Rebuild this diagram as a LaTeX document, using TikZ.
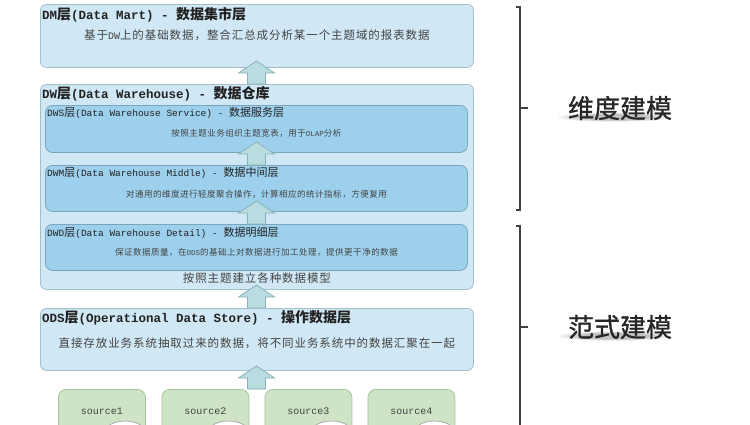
\documentclass[tikz,border=0pt]{standalone}
\usepackage{fontspec}
\setmonofont{Liberation Mono}
\newfontfamily\cjk{Noto Sans CJK SC}
\newfontfamily\cjkheavy[FakeBold=1]{Noto Sans CJK SC}
\newfontfamily\cjksp[LetterSpace=8]{Noto Sans CJK SC}
\newfontfamily\cjkss[LetterSpace=6]{Noto Sans CJK SC}
\usetikzlibrary{calc}
\definecolor{boxfill}{HTML}{D0E8F5}
\definecolor{boxline}{HTML}{A3BFC8}
\definecolor{innerfill}{HTML}{9DD0EC}
\definecolor{innerline}{HTML}{7AA5BA}
\definecolor{arrfill}{HTML}{B8DCE0}
\definecolor{arrline}{HTML}{8AB2B6}
\definecolor{srcfill}{HTML}{CFE3C7}
\definecolor{srcline}{HTML}{A8C59E}
\definecolor{txt}{HTML}{222222}
\newcommand\TL[1]{{\ttfamily\bfseries\fontsize{12.5bp}{15bp}\selectfont #1}}
\newcommand\TC[1]{{\cjk\bfseries\fontsize{14bp}{16bp}\selectfont #1}}
\newcommand\IL[1]{{\ttfamily\fontsize{9.5bp}{12bp}\selectfont #1}}
\newcommand\IC[1]{{\cjk\fontsize{11bp}{13bp}\selectfont #1}}
\newcommand\SL[1]{{\ttfamily\fontsize{7.5bp}{9bp}\selectfont #1}}
\newcommand\SC[1]{{\cjkss\fontsize{8.5bp}{10bp}\selectfont #1}}
\newcommand\ML[1]{{\ttfamily\fontsize{10bp}{12bp}\selectfont #1}}
\newcommand\MC[1]{{\cjksp\fontsize{11.5bp}{13bp}\selectfont #1}}
\newcommand\uparr[1]{%
  \draw[blockarr] ($(#1 -| ax)+(-9,0)$) -- ++(0,-11) -- ++(-9,0) -- ++(18,-12)
    -- ++(18,12) -- ++(-9,0) -- ++(0,11) -- cycle;}
\newcommand\softshadow[1]{%
  \foreach \r/\o in {56/0.05,50/0.06,44/0.07,36/0.08}{
    \fill[black, opacity=\o] ($(#1.south)+(-6,-3)$) ellipse [x radius=\r, y radius=\r/12];}}
\begin{document}
\begin{tikzpicture}[x=1bp,y=-1bp,
  layer/.style={draw=boxline, fill=boxfill, rounded corners=6bp, line width=0.8bp,
    minimum width=433bp, anchor=north west, inner sep=0pt},
  sublayer/.style={draw=innerline, fill=innerfill, rounded corners=7bp, line width=0.8bp,
    minimum width=422bp, minimum height=47bp, anchor=north west, inner sep=0pt},
  srcbox/.style={draw=srcline, fill=srcfill, rounded corners=8bp, line width=0.8bp,
    minimum width=87bp, minimum height=50bp, anchor=north west, inner sep=0pt},
  blockarr/.style={draw=arrline, fill=arrfill, line width=0.8bp, line join=miter},
  title/.style={anchor=west, inner sep=0pt, text=txt},
  sub/.style={anchor=center, inner sep=0pt, text=txt!85},
  srctext/.style={inner sep=0pt, text=txt!85, font=\ttfamily\fontsize{10bp}{12bp}\selectfont},
  bracket/.style={draw=black!75, line width=1.1bp},
  side/.style={inner sep=0pt, text=black!85, font=\cjkheavy\fontsize{26bp}{30bp}\selectfont}
]
\useasboundingbox (0,0) rectangle (750,424);
\clip (0,0) rectangle (750,424);
\fill[white] (0,0) rectangle (750,424);
\coordinate (ax) at (256.5,0);

% layers
\node[layer, minimum height=63bp] (dm) at (40,4) {};
\node[layer, minimum height=205bp] (dw) at (40,84) {};
\node[sublayer] (dws) at (45,105) {};
\node[sublayer, minimum height=46bp] (dwm) at (45,165) {};
\node[sublayer, minimum height=46bp] (dwd) at (45,224) {};
\node[layer, minimum height=62bp] (ods) at (40,308) {};

% sources
\node[srcbox] (s1) at (58,389) {};
\node[srcbox] (s2) at (161.5,389) {};
\node[srcbox] (s3) at (264.5,389) {};
\node[srcbox] (s4) at (367.5,389) {};
\foreach \s in {s1,s2,s3,s4}{
  \draw[draw=black!35, fill=white, line width=0.7bp] ($(\s.north west)+(67,43)$) ellipse [x radius=20, y radius=11];
}
\node[srctext] (s1t) at ($(s1.north)+(0,22)$) {source1};
\node[srctext] (s2t) at ($(s2.north)+(0,22)$) {source2};
\node[srctext] (s3t) at ($(s3.north)+(0,22)$) {source3};
\node[srctext] (s4t) at ($(s4.north)+(0,22)$) {source4};
\coordinate (srcs) at (256.5,389);

% arrows
\uparr{dw.north}
\uparr{dwm.north}
\uparr{dwd.north}
\uparr{ods.north}
\uparr{srcs}

% texts
\node[title] (dmt) at ($(dm.north west)+(2,11)$) {\TL{DM}\TC{层}\TL{(Data Mart) - }\TC{数据集市层}};
\node[sub] (dms) at ($(dm.north)+(0,31)$) {\MC{基于}\ML{DW}\MC{上的基础数据，整合汇总成分析某一个主题域的报表数据}};

\node[title] (dwt) at ($(dw.north west)+(2,9.5)$) {\TL{DW}\TC{层}\TL{(Data Warehouse) - }\TC{数据仓库}};

\node[title] (dwst) at ($(dws.north west)+(2,8)$) {\IL{DWS}\IC{层}\IL{(Data Warehouse Service) - }\IC{数据服务层}};
\node[sub] (dwss) at ($(dws.north)+(0,28)$) {\SC{按照主题业务组织主题宽表，用于}\SL{OLAP}\SC{分析}};

\node[title] (dwmt) at ($(dwm.north west)+(2,8)$) {\IL{DWM}\IC{层}\IL{(Data Warehouse Middle) - }\IC{数据中间层}};
\node[sub] (dwms) at ($(dwm.north)+(0,29)$) {\SC{对通用的维度进行轻度聚合操作，计算相应的统计指标，方便复用}};

\node[title] (dwdt) at ($(dwd.north west)+(2,9)$) {\IL{DWD}\IC{层}\IL{(Data Warehouse Detail) - }\IC{数据明细层}};
\node[sub] (dwds) at ($(dwd.north)+(0,28)$) {\SC{保证数据质量，在}\SL{ODS}\SC{的基础上对数据进行加工处理，提供更干净的数据}};

\node[sub] (dwb) at ($(dw.north)+(0,194.5)$) {\MC{按照主题建立各种数据模型}};

\node[title] (odst) at ($(ods.north west)+(2,10)$) {\TL{ODS}\TC{层}\TL{(Operational Data Store) - }\TC{操作数据层}};
\node[sub] (odss) at ($(ods.north)+(0,35)$) {\MC{直接存放业务系统抽取过来的数据，将不同业务系统中的数据汇聚在一起}};

% brackets
\draw[bracket] (516,7) -- (520,7) -- (520,210) -- (516,210);
\draw[bracket] (520,108) -- (528,108);
\draw[bracket] (516,226) -- (520,226) -- (520,430);
\draw[bracket] (520,327) -- (528,327);

% side labels with soft shadow
\node[side, opacity=0] (wdg) at (620,108) {维度建模};
\softshadow{wdg}
\node[side] (wd) at (620,108) {维度建模};
\node[side, opacity=0] (fsg) at (620,327) {范式建模};
\softshadow{fsg}
\node[side] (fs) at (620,327) {范式建模};
\end{tikzpicture}
\end{document}
